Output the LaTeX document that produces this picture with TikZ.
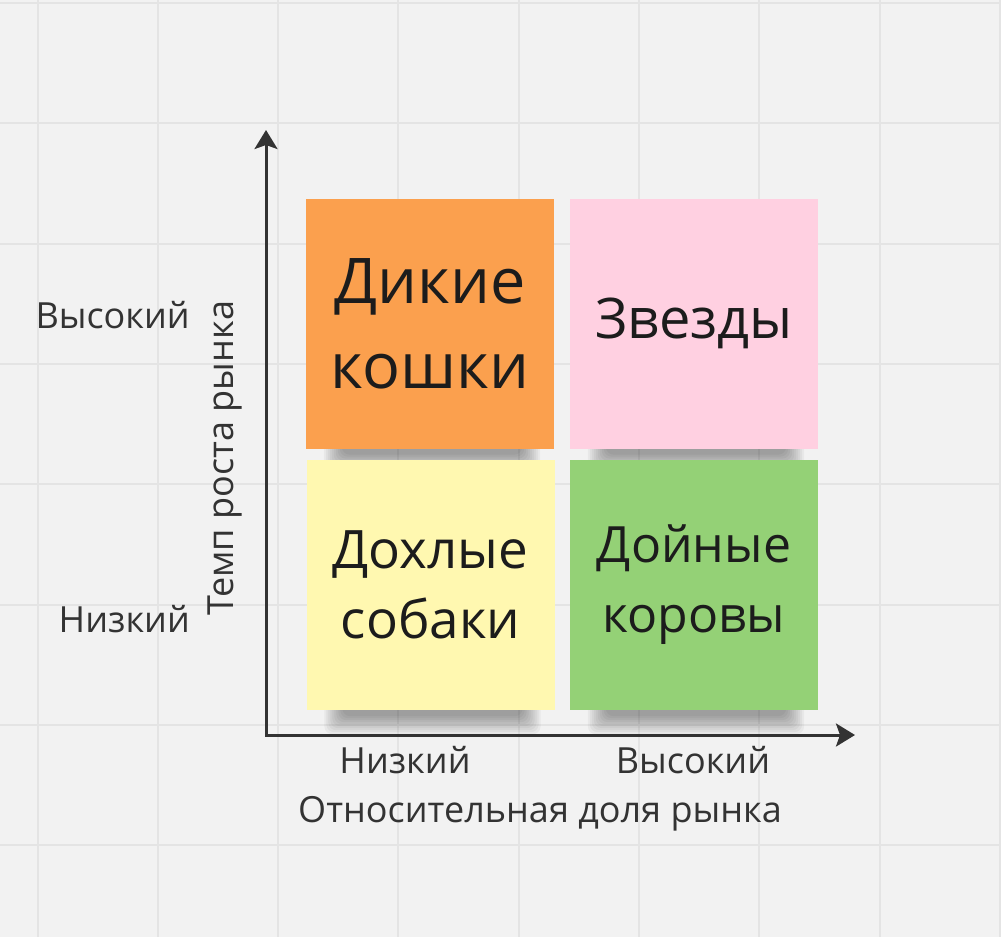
\documentclass[tikz,border=0pt]{standalone}
\usepackage{fontspec}
\setmainfont{Open Sans}
\usetikzlibrary{arrows.meta,calc,backgrounds}
\definecolor{board}{HTML}{F2F2F2}
\definecolor{gridgray}{HTML}{E4E4E4}
\definecolor{ink}{HTML}{333333}
\definecolor{noteink}{HTML}{1C1C1C}
\definecolor{noteorange}{HTML}{FBA04E}
\definecolor{notepink}{HTML}{FFD0E1}
\definecolor{noteyellow}{HTML}{FFF8B0}
\definecolor{notegreen}{HTML}{94D176}

\begin{document}
\begin{tikzpicture}[x=1pt,y=-1pt,
  sticky/.style = {shape=rectangle, minimum width=248pt, minimum height=250pt,
    inner sep=0pt, align=center, text=noteink},
  axisline/.style = {line width=3pt, draw=ink, line cap=rect,
    -{Stealth[length=19pt,width=23pt,inset=4pt]}},
  axislabel/.style = {text=ink, inner sep=0pt, font=\fontsize{36}{40}\selectfont}]
  \useasboundingbox (0,0) rectangle (1001,937);
  \begin{scope}[on background layer]
    \fill[board] (0,0) rectangle (1001,937);
    \foreach \k in {0,...,8}
      \draw[gridgray, line width=2pt] ({37.5+120.3*\k},0) -- ({37.5+120.3*\k},937);
    \foreach \k in {0,...,7}
      \draw[gridgray, line width=2pt] (0,{3+120.3*\k}) -- (1001,{3+120.3*\k});
  \end{scope}

  \node[sticky, fill=noteorange, font=\fontsize{63}{85}\selectfont] (wildcats)
    at (430,323.5) {Дикие\\кошки};
  \node[sticky, fill=notepink, font=\fontsize{56}{70}\selectfont] (stars)
    at (694,323.5) {Звезды};
  \node[sticky, fill=noteyellow, font=\fontsize{53}{70}\selectfont] (dogs)
    at (430.5,585) {Дохлые\\собаки};
  \node[sticky, fill=notegreen, font=\fontsize{50}{70}\selectfont] (cows)
    at (694,585) {Дойные\\коровы};

  \begin{scope}[on background layer]
    \foreach \n in {wildcats,stars,dogs,cows}
      \foreach \i in {0,...,9}
        \fill[black, opacity=.04, rounded corners=8pt]
          ($(\n.south west)+(18+2*\i,-10)$) rectangle ($(\n.south east)+(-14-2*\i,24-2*\i)$);
  \end{scope}

  \coordinate (origin) at (266,735);
  \coordinate (growthtip) at (266,130);
  \coordinate (sharetip) at (855,735);
  \draw[axisline] (origin) -- (growthtip);
  \draw[axisline] (origin) -- (sharetip);

  \node[axislabel, anchor=base east] (growthhigh) at (190,328) {Высокий};
  \node[axislabel, anchor=base east] (growthlow) at (190,632) {Низкий};
  \node[axislabel, anchor=base, rotate=90] (growth) at (233,458) {Темп роста рынка};
  \node[axislabel, anchor=base] (sharelow) at (405,773) {Низкий};
  \node[axislabel, anchor=base] (sharehigh) at (693,773) {Высокий};
  \node[axislabel, anchor=base] (share) at (540,822) {Относительная доля рынка};
\end{tikzpicture}
\end{document}
